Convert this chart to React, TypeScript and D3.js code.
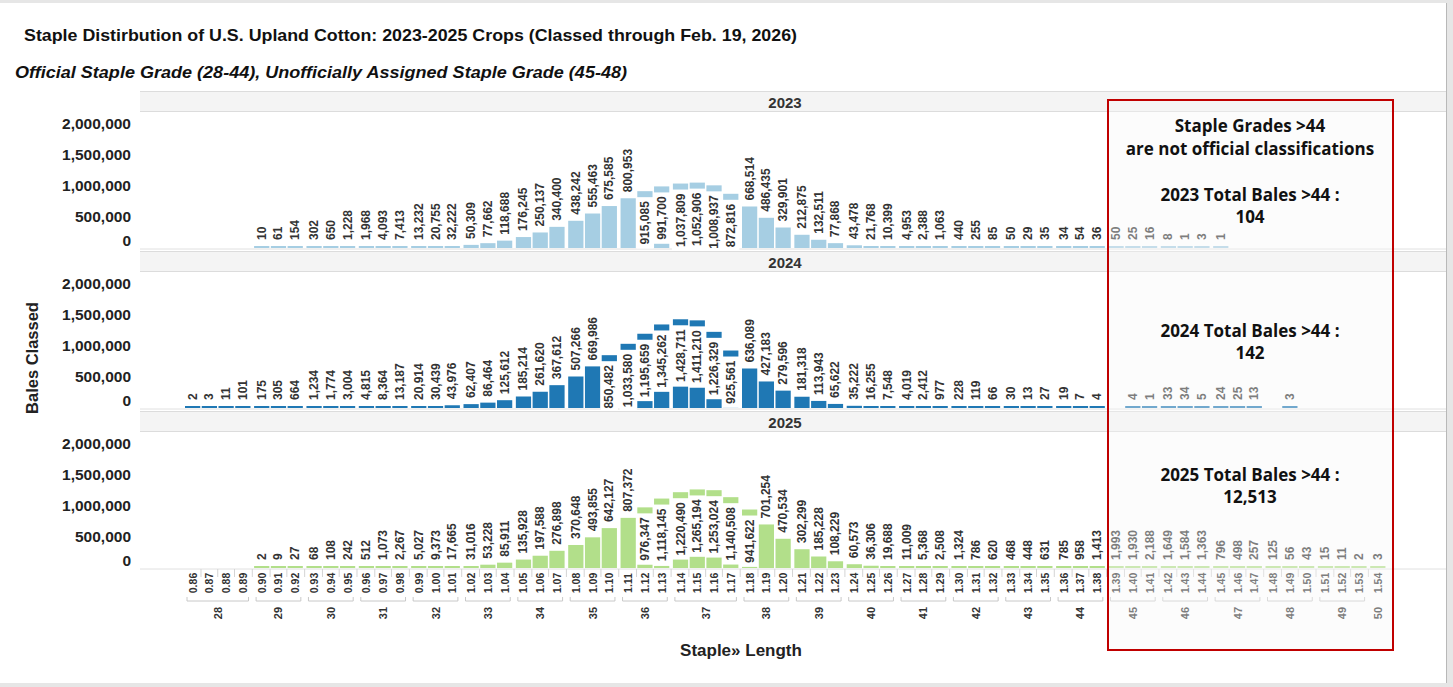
import React from "react";
import * as d3 from "d3";

// categories: staple length (inches) nested in staple grade (32nds)
const lengths = [
  "0.86", "0.87", "0.88", "0.89", "0.90", "0.91", "0.92", "0.93", "0.94", "0.95",
  "0.96", "0.97", "0.98", "0.99", "1.00", "1.01", "1.02", "1.03", "1.04", "1.05",
  "1.06", "1.07", "1.08", "1.09", "1.10", "1.11", "1.12", "1.13", "1.14", "1.15",
  "1.16", "1.17", "1.18", "1.19", "1.20", "1.21", "1.22", "1.23", "1.24", "1.25",
  "1.26", "1.27", "1.28", "1.29", "1.30", "1.31", "1.32", "1.33", "1.34", "1.35",
  "1.36", "1.37", "1.38", "1.39", "1.40", "1.41", "1.42", "1.43", "1.44", "1.45",
  "1.46", "1.47", "1.48", "1.49", "1.50", "1.51", "1.52", "1.53", "1.54",
];
const staples = [
  "28", "29", "30", "31", "32", "33", "34", "35", "36", "37", "38", "39",
  "40", "41", "42", "43", "44", "45", "46", "47", "48", "49", "50",
];
const stapleSizes = [4, 3, 3, 3, 3, 3, 3, 3, 3, 4, 3, 3, 3, 3, 3, 3, 3, 3, 3, 3, 3, 3, 1];

const years = ["2023", "2024", "2025"];
const colors = ["#a6cee3", "#1f78b4", "#b2df8a"];

const bales2023 = [
  null, null, null, null,
  10, 61, 154, 302, 650, 1228, 1968, 4093, 7413, 13232, 20755, 32222, 50309, 77662,
  118688, 176245, 250137, 340400, 438242, 555463, 675585, 800953,
  915085, 991700, 1037809, 1052906, 1008937, 872816, 668514, 486435, 329901, 212875,
  132511, 77868, 43478, 21768, 10399, 4953, 2388, 1063, 440, 255, 85, 50, 29, 35,
  34, 54, 36, 50, 25, 16, 8, 1, 3, 1,
  null, null, null, null, null, null, null, null, null,
];
const bales2024 = [
  2, 3, 11, 101, 175, 305, 664, 1234, 1774, 3004, 4815, 8364, 13187, 20914, 30439,
  43976, 62407, 86464, 125612, 185214, 261620, 367612, 507266, 669986, 850482, 1033580,
  1195659, 1345262, 1428711, 1411210, 1226329, 925561, 636089, 427183, 279596, 181318,
  113943, 65622, 35222, 16255, 7548, 4019, 2412, 977, 228, 119, 66, 30, 13, 27,
  19, 7, 4, null, 4, 1, 33, 34, 5, 24, 25, 13, null, 3,
  null, null, null, null, null,
];
const bales2025 = [
  null, null, null, null,
  2, 9, 27, 68, 108, 242, 512, 1073, 2267, 5027, 9373, 17665, 31016, 53228,
  85911, 135928, 197588, 276898, 370648, 493855, 642127, 807372,
  976347, 1118145, 1220490, 1265194, 1253024, 1140508, 941622, 701254, 470534, 302299,
  185228, 108229, 60573, 36306, 19688, 11009, 5368, 2508, 1324, 786, 620, 468, 448, 631,
  785, 958, 1413, 1993, 1930, 2188, 1649, 1584, 1363, 796, 498, 257, 125, 56, 43,
  15, 11, 2, 3,
];
const series = [bales2023, bales2024, bales2025];

const yTicks = [0, 500000, 1000000, 1500000, 2000000];
const totalsOver44 = ["104", "142", "12,513"];

const W = 1453;
const H = 687;
const FONT = "'Liberation Sans', Arial, sans-serif";
const NOTE_FONT = "'Open Sans', 'Noto Sans', sans-serif";
const fmt = d3.format(",");

const PLOT_L = 140;
const PLOT_R = 1446;
const STEP = 16.75;
const GROUP_GAP = 2.1;
const X0 = 185;
const LABEL_SIZE = 12;

const xBand = d3
  .scaleBand<string>()
  .domain(lengths)
  .range([X0, X0 + STEP * (lengths.length - 0.09)])
  .paddingInner(0.09)
  .paddingOuter(0);

const groupOf: number[] = [];
stapleSizes.forEach((n, g) => {
  for (let k = 0; k < n; k++) groupOf.push(g);
});
const xAt = (i: number) => (xBand(lengths[i]) as number) + groupOf[i] * GROUP_GAP;
const bw = xBand.bandwidth();

// rough width of a bold number label
const textLen = (s: string, size: number) =>
  s.split("").reduce((a, c) => a + (c === "," || c === "." ? 0.278 : 0.556), 0) * size;

const Panel = ({ p }: { p: number }) => {
  const top = 91 + p * 160;
  const plotTop = top + 21;
  const base = top + 157;
  const y = d3.scaleLinear().domain([0, 2190000]).range([base, plotTop]);
  const data = series[p];

  return (
    <g>
      <rect x={PLOT_L} y={top} width={PLOT_R - PLOT_L} height={21} fill="#f4f4f4" />
      <line x1={PLOT_L} x2={PLOT_R} y1={top + 0.5} y2={top + 0.5} stroke="#dcdcdc" />
      <line x1={PLOT_L} x2={PLOT_R} y1={plotTop - 0.5} y2={plotTop - 0.5} stroke="#dcdcdc" />
      <text
        x={785}
        y={top + 11}
        dominantBaseline="central"
        textAnchor="middle"
        fontFamily={FONT}
        fontWeight="bold"
        fontSize={15}
        fill="#333"
      >
        {years[p]}
      </text>
      <line x1={PLOT_L} x2={PLOT_R} y1={base + 1} y2={base + 1} stroke="#e0e0e0" />

      {yTicks.map((t) => (
        <text
          key={t}
          x={131}
          y={t === 0 ? y(t) - 8 : y(t)}
          dominantBaseline="central"
          textAnchor="end"
          fontFamily={FONT}
          fontWeight="bold"
          fontSize={15.5}
          fill="#222"
        >
          {fmt(t)}
        </text>
      ))}

      {data.map((v, i) => {
        if (v == null) return null;
        const x = xAt(i);
        const yTop = Math.min(y(v), base - 2);
        return (
          <rect key={"b" + i} x={x} y={yTop} width={bw} height={base - yTop} fill={colors[p]} />
        );
      })}

      {data.map((v, i) => {
        if (v == null) return null;
        const x = xAt(i);
        const cx = x + bw / 2;
        const yTop = Math.min(y(v), base - 2);
        const label = fmt(v);
        const inside = v > 830000;
        if (inside) {
          const len = textLen(label, LABEL_SIZE);
          return (
            <g key={"l" + i}>
              <rect x={x - 1} y={yTop + 6} width={bw + 2} height={len + 8} fill="#fff" />
              <text
                transform={`translate(${cx},${yTop + 10}) rotate(-90)`}
                textAnchor="end"
                dominantBaseline="central"
                fontFamily={FONT}
                fontWeight="bold"
                fontSize={LABEL_SIZE}
                fill="#333"
              >
                {label}
              </text>
            </g>
          );
        }
        return (
          <text
            key={"l" + i}
            transform={`translate(${cx},${yTop - 6}) rotate(-90)`}
            textAnchor="start"
            dominantBaseline="central"
            fontFamily={FONT}
            fontWeight="bold"
            fontSize={LABEL_SIZE}
            fill="#333"
          >
            {label}
          </text>
        );
      })}
    </g>
  );
};

const XAxis = () => {
  const top = 91 + 2 * 160 + 157;
  let start = 0;
  const groups = staples.map((s, g) => {
    const first = start;
    const last = start + stapleSizes[g] - 1;
    start += stapleSizes[g];
    return { s, first, last };
  });
  return (
    <g>
      {lengths.map((l, i) => {
        if (i === 0) return null;
        const dx = xAt(i) - (STEP - bw) / 2 - (groupOf[i] !== groupOf[i - 1] ? GROUP_GAP / 2 : 0);
        return <line key={"d" + i} x1={dx} x2={dx} y1={top + 1} y2={top + 9} stroke="#d4d4d4" />;
      })}
      {lengths.map((l, i) => (
        <text
          key={"t" + i}
          transform={`translate(${xAt(i) + bw / 2},${top + 15}) rotate(-90)`}
          textAnchor="middle"
          dominantBaseline="central"
          fontFamily={FONT}
          fontWeight="bold"
          fontSize={10.5}
          fill="#333"
        >
          {l}
        </text>
      ))}
      {groups.map(({ s, first, last }) => {
        const x1 = xAt(first) + 2;
        const x2 = xAt(last) + bw - 2;
        const cx = (xAt(first) + xAt(last) + bw) / 2;
        return (
          <g key={"g" + s}>
            {last > first && (
              <path
                d={`M${x1},${top + 29}V${top + 33}H${x2}V${top + 29}`}
                fill="none"
                stroke="#c8c8c8"
              />
            )}
            <text
              transform={`translate(${cx},${top + 45}) rotate(-90)`}
              textAnchor="middle"
              dominantBaseline="central"
              fontFamily={FONT}
              fontWeight="bold"
              fontSize={11}
              fill="#333"
            >
              {s}
            </text>
          </g>
        );
      })}
    </g>
  );
};

export default function App() {
  const noteX = 1250;
  const noteY = [194, 330, 474];
  const totalY = [216, 352, 496];
  return (
    <svg
      width={W}
      height={H}
      viewBox={`0 0 ${W} ${H}`}
      style={{ position: "absolute", left: 0, top: 0, display: "block" }}
    >
      <rect width={W} height={H} fill="#e6e6e6" />
      <rect x={0} y={3} width={1446} height={680} fill="#fff" />
      <line x1={1446.5} x2={1446.5} y1={3} y2={683} stroke="#b8b8b8" />

      <text
        x={24}
        y={35}
        dominantBaseline="central"
        fontFamily={FONT}
        fontWeight="bold"
        fontSize={17}
        textLength={773}
        lengthAdjust="spacingAndGlyphs"
        fill="#111"
      >
        Staple Distirbution of U.S. Upland Cotton: 2023-2025 Crops (Classed through Feb. 19, 2026)
      </text>
      <text
        x={15}
        y={72}
        dominantBaseline="central"
        fontFamily={FONT}
        fontWeight="bold"
        fontStyle="italic"
        fontSize={17}
        textLength={612}
        lengthAdjust="spacingAndGlyphs"
        fill="#111"
      >
        Official Staple Grade (28-44), Unofficially Assigned Staple Grade (45-48)
      </text>

      {years.map((yr, p) => (
        <Panel key={yr} p={p} />
      ))}
      <XAxis />

      <text
        transform="translate(32,358) rotate(-90)"
        textAnchor="middle"
        dominantBaseline="central"
        fontFamily={FONT}
        fontWeight="bold"
        fontSize={16.5}
        fill="#222"
      >
        Bales Classed
      </text>
      <text
        x={741}
        y={650}
        textAnchor="middle"
        dominantBaseline="central"
        fontFamily={FONT}
        fontWeight="bold"
        fontSize={17}
        fill="#222"
      >
        Staple» Length
      </text>

      <rect
        x={1108}
        y={100}
        width={285}
        height={550}
        fill="rgba(247,247,247,0.38)"
        stroke="#c00000"
        strokeWidth={2}
      />
      <g fontFamily={NOTE_FONT} fontWeight="bold" fontSize={17} fill="#111" textAnchor="middle">
        <text x={noteX} y={125} dominantBaseline="central">Staple Grades &gt;44</text>
        <text x={noteX} y={148} dominantBaseline="central">are not official classifications</text>
        {years.map((yr, p) => (
          <g key={yr}>
            <text x={noteX} y={noteY[p]} dominantBaseline="central">
              {yr} Total Bales &gt;44 :
            </text>
            <text x={noteX} y={totalY[p]} dominantBaseline="central">
              {totalsOver44[p]}
            </text>
          </g>
        ))}
      </g>
    </svg>
  );
}
